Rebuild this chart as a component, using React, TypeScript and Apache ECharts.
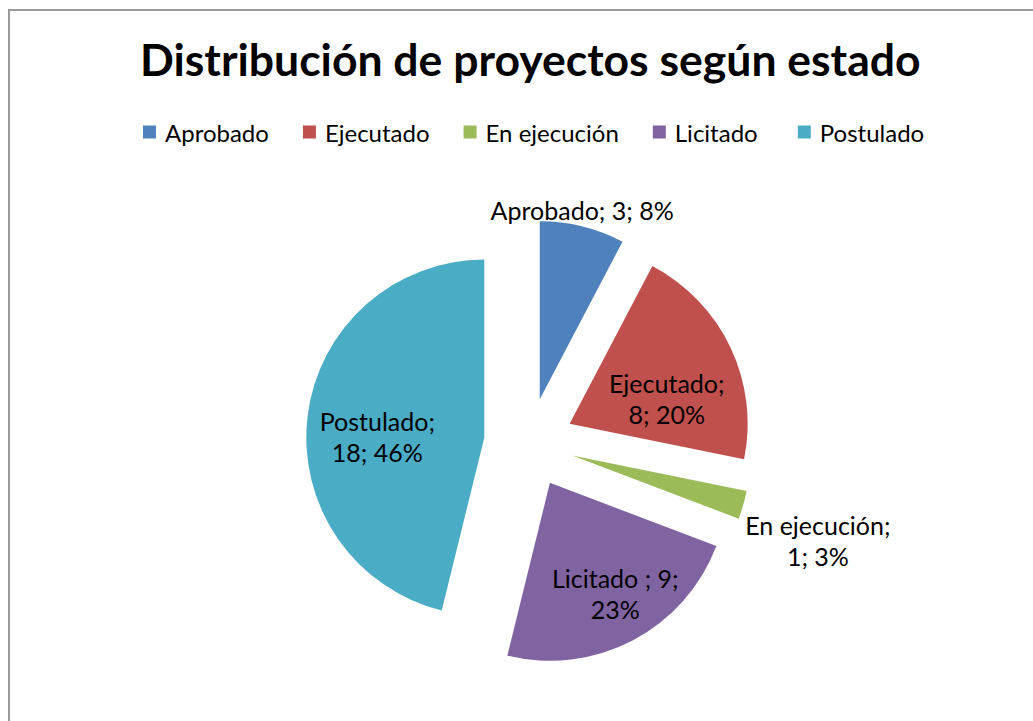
import React, { useEffect, useRef } from "react";
import * as echarts from "echarts";

const titleText = "Distribución de proyectos según estado";
const categories = ["Aprobado", "Ejecutado", "En ejecución", "Licitado ", "Postulado"];
const values = [3, 8, 1, 9, 18];
const percentLabels = ["8%", "20%", "3%", "23%", "46%"];
// how many "; "-separated parts go on the first label line
const firstLineParts = [3, 1, 1, 2, 1];

const colors = ["#4F81BD", "#C0504D", "#9BBB59", "#8064A2", "#4BACC6"];
const FONT = "Lato, 'Noto Sans', sans-serif";

const CX = 529;
const CY = 443;
const R = 178;
const EXPLODE = 45;
// label placement (style): radial distance as fraction of R, angle tweak in degrees
const labelRadial = [1.09, 0.56, 1.46, 0.72, 0.6];
const labelTurn = [-1, 7.6, 2.5, -2.2, -4.6];

function midAngleDeg(i: number): number {
  const total = values.reduce((a, b) => a + b, 0);
  let before = 0;
  for (let k = 0; k < i; k++) before += values[k];
  return ((before + values[i] / 2) / total) * 360;
}

function labelText(i: number): string {
  const parts = [categories[i], String(values[i]), percentLabels[i]];
  const n = firstLineParts[i];
  if (n >= parts.length) return parts.join("; ");
  return parts.slice(0, n).join("; ") + ";\n" + parts.slice(n).join("; ");
}

export default function App() {
  const ref = useRef<HTMLDivElement>(null);
  useEffect(() => {
    if (!ref.current) return;
    const chart = echarts.init(ref.current, undefined, { renderer: "svg" });

    // one pie per slice, each shifted outward along its bisector (exploded pie)
    const series = categories.map((_, s) => {
      const a = (midAngleDeg(s) * Math.PI) / 180;
      return {
        type: "pie",
        name: categories[s],
        center: [CX + Math.sin(a) * EXPLODE, CY - Math.cos(a) * EXPLODE],
        radius: R,
        startAngle: 90,
        clockwise: true,
        silent: true,
        emphasis: { disabled: true },
        labelLine: { show: false },
        data: categories.map((name, i) => ({
          name,
          value: values[i],
          itemStyle: i === s ? { color: colors[i] } : { color: colors[i], opacity: 0 },
          label: { show: i === s },
        })),
        label: {
          position: "inside",
          fontFamily: FONT,
          fontSize: 25,
          lineHeight: 31,
          color: "#000",
          align: "center",
          formatter: (p: any) => labelText(p.dataIndex),
        },
        labelLayout: (p: any) => {
          const i = p.dataIndex;
          const ang = ((midAngleDeg(i) + labelTurn[i]) * Math.PI) / 180;
          const dist = EXPLODE + labelRadial[i] * R;
          return {
            x: CX + Math.sin(ang) * dist,
            y: CY - Math.cos(ang) * dist,
            align: "center",
            verticalAlign: "middle",
          };
        },
      };
    });

    const option: any = {
      animation: false,
      backgroundColor: "#ffffff",
      color: colors,
      title: {
        text: titleText,
        left: 140,
        top: 36,
        padding: 0,
        textStyle: { fontFamily: FONT, fontSize: 44.5, fontWeight: "bold", color: "#000" },
      },
      legend: {
        data: categories.map((name, i) => ({
          name,
          icon: "rect",
          itemStyle: { color: colors[i], opacity: 1 },
        })),
        top: 115,
        left: 138,
        icon: "rect",
        itemWidth: 13,
        itemHeight: 13,
        itemGap: 34,
        selectedMode: false,
        textStyle: { fontFamily: FONT, fontSize: 24, color: "#000", padding: [0, 0, 0, 4] },
      },
      graphic: [
        {
          type: "rect",
          shape: { x: 9, y: 10, width: 1100, height: 800 },
          style: { fill: "none", stroke: "#999999", lineWidth: 2 },
          silent: true,
          z: -1,
        },
      ],
      series,
    };
    chart.setOption(option);
    return () => chart.dispose();
  }, []);
  return (
    <div
      ref={ref}
      style={{ position: "fixed", left: 0, top: 0, width: 1033, height: 721, background: "#fff" }}
    />
  );
}
